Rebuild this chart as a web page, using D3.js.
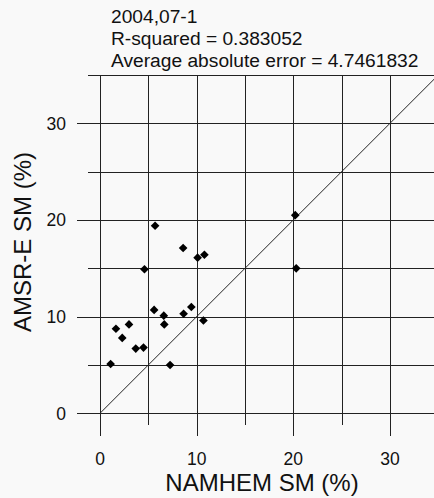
<!DOCTYPE html>
<html lang="en">
<head>
    <meta charset="UTF-8">
    <title>AMSR-E vs NAMHEM</title>
    <script src="https://d3js.org/d3.v7.min.js"></script>
    <style>
        body {
            margin: 0;
            background: #f9f9f9;
        }

        text {
            font-family: "Liberation Sans", Arial, sans-serif;
            fill: #111;
        }
    </style>
</head>
<body>
<svg id="chart" width="434" height="498"></svg>

<script>
    // values
    let namhem = [5.7, 8.6, 10.1, 10.8, 4.6, 5.6, 6.6, 6.65, 8.65, 9.45, 10.7, 1.65, 3.0, 2.3, 3.7, 4.5, 1.1, 7.25, 20.2, 20.3];
    let amsre = [19.4, 17.1, 16.1, 16.4, 14.9, 10.7, 10.1, 9.2, 10.3, 11.0, 9.6, 8.75, 9.2, 7.8, 6.7, 6.8, 5.1, 5.0, 20.5, 15.0];
    let gridValues = [0, 5, 10, 15, 20, 25, 30, 35];
    let tickLabels = [0, 10, 20, 30];
    let titleLines = ["2004,07-1", "R-squared = 0.383052", "Average absolute error = 4.7461832"];

    let svg = d3.select("#chart");

    let x = d3.scaleLinear().domain([0, 35]).range([100, 438.3]);
    let y = d3.scaleLinear().domain([0, 35]).range([413.3, 75]);

    let isMajor = function (v) {
        return v % 10 === 0;
    };

    // vertical grid lines with ticks below
    svg.selectAll(".vgrid")
        .data(gridValues)
        .enter().append("line")
        .attr("x1", d => Math.round(x(d)) + 0.5)
        .attr("x2", d => Math.round(x(d)) + 0.5)
        .attr("y1", y(35))
        .attr("y2", d => isMajor(d) ? 436 : 425)
        .attr("stroke", "#222")
        .attr("stroke-width", 1);

    // horizontal grid lines with ticks on the left
    svg.selectAll(".hgrid")
        .data(gridValues)
        .enter().append("line")
        .attr("x1", d => isMajor(d) ? 77 : 88)
        .attr("x2", 434)
        .attr("y1", d => Math.round(y(d)) + 0.5)
        .attr("y2", d => Math.round(y(d)) + 0.5)
        .attr("stroke", "#222")
        .attr("stroke-width", 1);

    // 1:1 line
    svg.append("line")
        .attr("x1", x(0))
        .attr("y1", y(0))
        .attr("x2", x(35))
        .attr("y2", y(35))
        .attr("stroke", "#222")
        .attr("stroke-width", 1);

    // tick labels
    svg.selectAll(".xlab")
        .data(tickLabels)
        .enter().append("text")
        .attr("x", d => x(d))
        .attr("y", 465)
        .attr("text-anchor", "middle")
        .attr("font-size", 17.5)
        .text(d => d);

    svg.selectAll(".ylab")
        .data(tickLabels)
        .enter().append("text")
        .attr("x", 66)
        .attr("y", d => y(d) + 6.3)
        .attr("text-anchor", "end")
        .attr("font-size", 17.5)
        .text(d => d);

    // axis titles
    svg.append("text")
        .attr("x", 262)
        .attr("y", 491)
        .attr("text-anchor", "middle")
        .attr("font-size", 24)
        .text("NAMHEM SM (%)");

    svg.append("text")
        .attr("transform", "translate(31," + 242 + ") rotate(-90)")
        .attr("text-anchor", "middle")
        .attr("font-size", 24)
        .text("AMSR-E SM (%)");

    // title block
    svg.selectAll(".title")
        .data(titleLines)
        .enter().append("text")
        .attr("x", 111)
        .attr("y", (d, i) => 23 + i * 22)
        .attr("font-size", 19.2)
        .text(d => d);

    // points
    let diamond = d3.symbol().type(d3.symbolDiamond2).size(48);

    svg.selectAll(".pt")
        .data(namhem)
        .enter().append("path")
        .attr("d", diamond)
        .attr("transform", (d, i) => "translate(" + x(d) + "," + y(amsre[i]) + ")")
        .attr("fill", "#000");
</script>
</body>
</html>
